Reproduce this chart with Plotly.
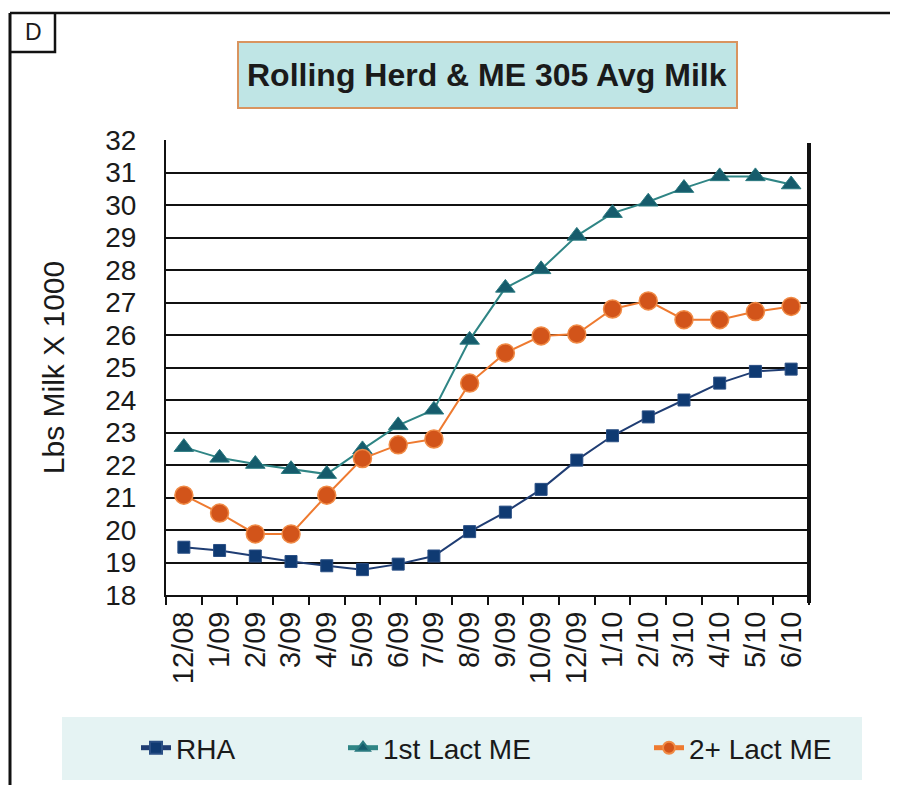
import plotly.graph_objects as go

# ---- data ----
months = ["12/08", "1/09", "2/09", "3/09", "4/09", "5/09", "6/09", "7/09", "8/09",
          "9/09", "10/09", "12/09", "1/10", "2/10", "3/10", "4/10", "5/10", "6/10"]
rha = [19.47, 19.37, 19.2, 19.03, 18.9, 18.78, 18.95, 19.2, 19.95,
       20.55, 21.25, 22.15, 22.9, 23.48, 24.0, 24.52, 24.88, 24.95]
first_lact = [22.55, 22.22, 22.03, 21.87, 21.72, 22.48, 23.22, 23.7, 25.85,
              27.45, 28.02, 29.05, 29.75, 30.1, 30.52, 30.88, 30.88, 30.63]
second_lact = [21.07, 20.52, 19.88, 19.88, 21.07, 22.2, 22.62, 22.8, 24.52,
               25.45, 25.97, 26.03, 26.8, 27.05, 26.47, 26.47, 26.72, 26.88]
y_ticks = list(range(18, 33))

FONT = "Arial, 'Liberation Sans', Helvetica, sans-serif"
TXT = "#1a1a1a"

# page body margin (px) -- figure is drawn offset by this much
OFF = 8
FW, FH = 898 - OFF, 785 - OFF
# plot area in page pixels
L, R, T, B = 166, 809, 140, 595
W, H = R - L, B - T


def px(x):
    return (x - L) / W


def py(y):
    return (B - y) / H


fig = go.Figure()
fig.add_trace(go.Scatter(
    x=months, y=rha, name="RHA", mode="lines+markers",
    line=dict(color="#1f3d73", width=2),
    marker=dict(symbol="square", size=12, color="#0f3a72",
                line=dict(color="#2a4f85", width=1)),
    legend="legend"))
fig.add_trace(go.Scatter(
    x=months, y=first_lact, name="1st Lact ME", mode="lines+markers",
    line=dict(color="#2f8585", width=2),
    marker=dict(symbol="triangle-up", size=17, color="#165c6c",
                line=dict(color="#2a7a80", width=1)),
    legend="legend2"))
fig.add_trace(go.Scatter(
    x=months, y=second_lact, name="2+ Lact ME", mode="lines+markers",
    line=dict(color="#ee7a30", width=2),
    marker=dict(symbol="circle", size=18, color="#d2541a",
                line=dict(color="#f08a45", width=1.5)),
    legend="legend3"))

shapes = []
# outer frame lines
shapes.append(dict(type="line", xref="paper", yref="paper",
                   x0=px(10), x1=px(900), y0=py(13), y1=py(13),
                   line=dict(color="#111111", width=2.5)))
shapes.append(dict(type="line", xref="paper", yref="paper",
                   x0=px(10), x1=px(10), y0=py(13), y1=py(790),
                   line=dict(color="#111111", width=3)))
# "D" box
shapes.append(dict(type="path", xref="paper", yref="paper",
                   path=f"M {px(10)},{py(52)} L {px(55)},{py(52)} L {px(55)},{py(13)}",
                   line=dict(color="#111111", width=2.5)))
# title box
shapes.append(dict(type="rect", xref="paper", yref="paper",
                   x0=px(238), x1=px(737), y0=py(108), y1=py(42),
                   fillcolor="#bfe5e5", line=dict(color="#d9945f", width=2),
                   layer="below"))
# legend box
shapes.append(dict(type="rect", xref="paper", yref="paper",
                   x0=px(62), x1=px(862), y0=py(780), y1=py(717),
                   fillcolor="#e5f3f3", line=dict(width=0), layer="below"))
# right thick border of plot area
shapes.append(dict(type="line", xref="x domain", yref="y domain",
                   x0=1, x1=1, y0=-8 / H, y1=1 - 3 / H,
                   line=dict(color="#111111", width=4)))

annotations = [
    dict(text="D", xref="paper", yref="paper", x=px(33), y=py(32),
         xanchor="center", yanchor="middle",
         showarrow=False, font=dict(family=FONT, size=23, color=TXT)),
    dict(text="<b>Rolling Herd &amp; ME 305 Avg Milk</b>", xref="paper", yref="paper",
         x=px(487), y=py(75), xanchor="center", yanchor="middle", showarrow=False,
         font=dict(family=FONT, size=32, color=TXT)),
]

leg_common = dict(orientation="h", bgcolor="rgba(0,0,0,0)", yanchor="middle",
                  y=py(748), xanchor="left", itemsizing="constant",
                  font=dict(family=FONT, size=28, color=TXT), tracegroupgap=0)

fig.update_layout(
    width=FW, height=FH,
    margin=dict(l=L - OFF, r=(FW + OFF) - R, t=T - OFF, b=(FH + OFF) - B),
    paper_bgcolor="white", plot_bgcolor="white",
    font=dict(family=FONT, color=TXT),
    showlegend=True,
    legend=dict(x=px(136), **leg_common),
    legend2=dict(x=px(343), **leg_common),
    legend3=dict(x=px(649), **leg_common),
    shapes=shapes, annotations=annotations,
    xaxis=dict(type="category", categoryorder="array", categoryarray=months,
               range=[-0.5, len(months) - 0.5], tickmode="linear", dtick=1,
               tickson="boundaries", ticks="outside", ticklen=8, tickwidth=1.5,
               tickcolor="#111111", tickangle=-90, ticklabelstandoff=3,
               showline=True, linecolor="#111111", linewidth=2,
               showgrid=False, zeroline=False,
               tickfont=dict(family=FONT, size=29, color=TXT)),
    yaxis=dict(range=[18, 32], tickvals=y_ticks, ticktext=[str(v) for v in y_ticks],
               showgrid=True, gridcolor="#111111", gridwidth=2,
               showline=True, linecolor="#111111", linewidth=2,
               ticks="", zeroline=False, ticklabelstandoff=22,
               tickfont=dict(family=FONT, size=28, color=TXT),
               title=dict(text="Lbs Milk X 1000", standoff=32,
                          font=dict(family=FONT, size=30, color=TXT))),
)

fig.write_html("out.html")
